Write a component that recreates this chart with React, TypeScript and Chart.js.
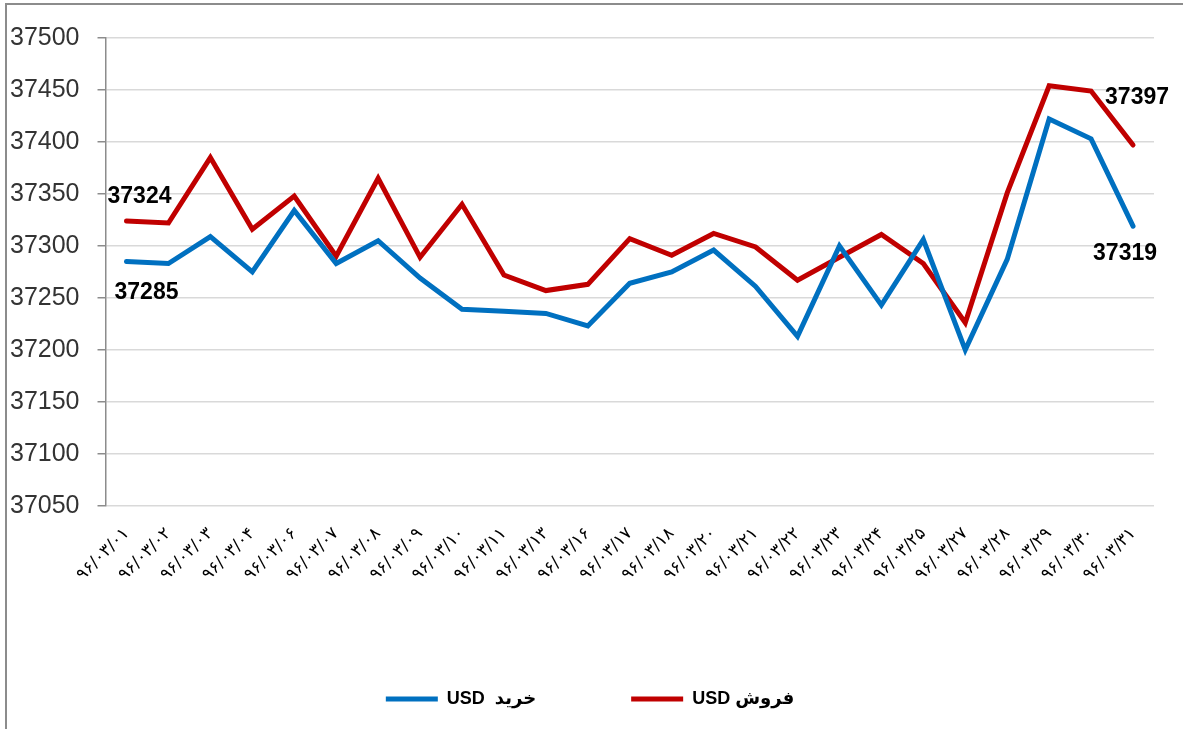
import React, { useEffect, useRef } from "react";
import { Chart, registerables } from "chart.js";

Chart.register(...registerables);

// ---- Data ----
const categories: string[] = [
  "۹۶/۰۳/۰۱", "۹۶/۰۳/۰۲", "۹۶/۰۳/۰۳", "۹۶/۰۳/۰۴", "۹۶/۰۳/۰۶",
  "۹۶/۰۳/۰۷", "۹۶/۰۳/۰۸", "۹۶/۰۳/۰۹", "۹۶/۰۳/۱۰", "۹۶/۰۳/۱۱",
  "۹۶/۰۳/۱۳", "۹۶/۰۳/۱۶", "۹۶/۰۳/۱۷", "۹۶/۰۳/۱۸", "۹۶/۰۳/۲۰",
  "۹۶/۰۳/۲۱", "۹۶/۰۳/۲۲", "۹۶/۰۳/۲۳", "۹۶/۰۳/۲۴", "۹۶/۰۳/۲۵",
  "۹۶/۰۳/۲۷", "۹۶/۰۳/۲۸", "۹۶/۰۳/۲۹", "۹۶/۰۳/۳۰", "۹۶/۰۳/۳۱",
];

const buyLabel = "USD  خرید";
const sellLabel = "USD فروش";

const buyValues: number[] = [
  37285, 37283, 37309, 37275, 37334, 37283, 37305, 37269, 37239, 37237,
  37235, 37223, 37264, 37275, 37296, 37261, 37213, 37300, 37243, 37306,
  37200, 37287, 37422, 37403, 37319,
];

const sellValues: number[] = [
  37324, 37322, 37385, 37316, 37348, 37290, 37365, 37289, 37340, 37272,
  37257, 37263, 37307, 37291, 37312, 37299, 37267, 37289, 37311, 37283,
  37226, 37351, 37454, 37449, 37397,
];

const yMin = 37050;
const yMax = 37500;
const yStep = 50;

// which points carry a value label (dataset index, point index)
const labelledPoints = [
  { ds: 1, i: 0, dx: 13, dy: -24 },
  { ds: 0, i: 0, dx: 20, dy: 31 },
  { ds: 1, i: 24, dx: 4, dy: -47 },
  { ds: 0, i: 24, dx: -8, dy: 28 },
];

const valueLabelPlugin = {
  id: "valueLabels",
  afterLayout(chart: any) {
    if (chart.legend) {
      chart.legend.left += 8;
      chart.legend.right += 8;
    }
  },
  afterDatasetsDraw(chart: any) {
    const ctx = chart.ctx as CanvasRenderingContext2D;
    ctx.save();
    ctx.font = "bold 23px 'Liberation Sans', Arial, sans-serif";
    ctx.fillStyle = "#000";
    ctx.textAlign = "center";
    ctx.textBaseline = "middle";
    for (const p of labelledPoints) {
      const meta = chart.getDatasetMeta(p.ds);
      const el = meta.data[p.i];
      const v = chart.data.datasets[p.ds].data[p.i];
      if (!el) continue;
      ctx.fillText(String(v), el.x + p.dx, el.y + p.dy);
    }
    ctx.restore();
  },
};

export default function App() {
  const canvasRef = useRef<HTMLCanvasElement | null>(null);

  useEffect(() => {
    if (!canvasRef.current) return;
    const chart = new Chart(canvasRef.current, {
      type: "line",
      data: {
        labels: categories,
        datasets: [
          {
            label: buyLabel,
            data: buyValues,
            borderColor: "#0070C0",
            backgroundColor: "#0070C0",
            borderWidth: 5,
            pointRadius: 0,
            tension: 0,
            borderCapStyle: "round",
          },
          {
            label: sellLabel,
            data: sellValues,
            borderColor: "#C00000",
            backgroundColor: "#C00000",
            borderWidth: 5,
            pointRadius: 0,
            tension: 0,
            borderCapStyle: "round",
          },
        ],
      },
      options: {
        animation: false,
        responsive: false,
        layout: { padding: { left: 10, right: 29, top: 38, bottom: 11 } },
        plugins: {
          tooltip: { enabled: false },
          legend: {
            position: "bottom",
            labels: {
              usePointStyle: true,
              pointStyle: "line",
              pointStyleWidth: 52,
              padding: 95,
              color: "#000",
              font: {
                family: "'Liberation Sans', 'DejaVu Sans', Arial, sans-serif",
                size: 18,
                weight: "bold",
              },
            },
          },
        },
        scales: {
          x: {
            offset: true,
            grid: { display: false },
            border: { display: false },
            ticks: {
              autoSkip: false,
              minRotation: 45,
              maxRotation: 45,
              color: "#000",
              padding: 10,
              font: { family: "'DejaVu Sans', sans-serif", size: 17 },
            },
          },
          y: {
            min: yMin,
            max: yMax,
            ticks: {
              stepSize: yStep,
              color: "#333",
              padding: 9,
              crossAlign: "far",
              font: { family: "'Liberation Sans', Arial, sans-serif", size: 25 },
              callback: (v: any) => String(v),
            },
            grid: {
              color: "#d9d9d9",
              lineWidth: 1.5,
              tickLength: 8,
              tickColor: "#8c8c8c",
            },
            border: { color: "#8c8c8c", width: 1.5 },
          },
        },
      },
      plugins: [valueLabelPlugin],
    });
    return () => chart.destroy();
  }, []);

  return (
    <div style={{ position: "absolute", left: 0, top: 0, width: 1183, height: 729, background: "#fff", overflow: "hidden" }}>
      <div
        style={{
          position: "absolute",
          left: 5,
          top: 3,
          width: 1300,
          height: 900,
          borderLeft: "2px solid #8c8c8c",
          borderTop: "2px solid #8c8c8c",
        }}
      />
      <canvas ref={canvasRef} width={1183} height={729} style={{ position: "absolute", left: 0, top: 0 }} />
    </div>
  );
}
